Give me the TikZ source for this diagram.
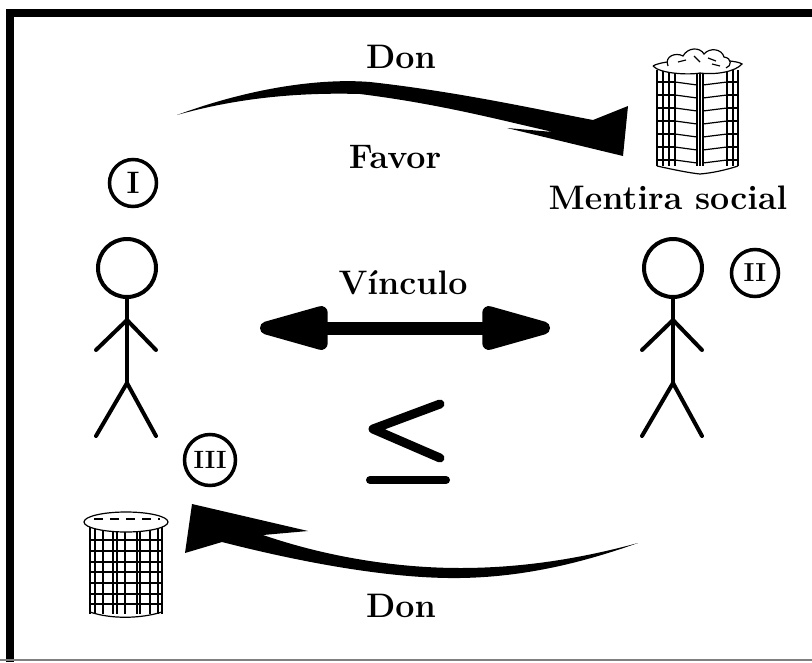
\documentclass[tikz,border=0pt]{standalone}
\usepackage{fontspec}
\usetikzlibrary{arrows.meta}
\tikzset{
  lbl/.style={font=\fontsize{34}{40}\selectfont\bfseries},
  num/.style={draw,circle,line width=3.5pt,minimum size=47pt,inner sep=0pt,font=\fontsize{31}{34}\selectfont\bfseries},
  stick/.style={line width=4pt,line cap=round},
  lazo/.style={line width=13pt,{Triangle[length=88pt,width=44pt,round]}-{Triangle[length=88pt,width=44pt,round]}},
  rejilla/.style={line width=1.2pt},
}

\begin{document}
\begin{tikzpicture}[x=1pt,y=-1pt]
  \useasboundingbox (0,0) rectangle (812,662);
  % ----- marco -----
  \draw[line width=8pt] (10,662) -- (10,13) -- (812,13);
  \draw[gray,line width=1.5pt] (0,660) -- (812,660);

  % ----- personas -----
  \foreach \n/\x in {uno/127,dos/673}{
    \node[draw,circle,line width=4pt,minimum size=58pt,inner sep=0pt] (cabeza\n) at (\x,268) {};
    \coordinate (hombro\n) at (\x,320);
    \coordinate (cadera\n) at (\x,383);
    \draw[stick] (cabeza\n.south) -- (cadera\n);
    \draw[stick] (\x-31,350) -- (hombro\n) -- (\x+29,350);
    \draw[stick] (\x-31,436) -- (cadera\n) -- (\x+29,436);}
  \node[num] (I) at (133,183) {I};
  \node[num,font=\fontsize{26}{30}\selectfont\bfseries] (II) at (755,273) {II};
  \node[num,minimum size=51pt,font=\fontsize{25}{30}\selectfont\bfseries] (III) at (210,460) {III};

  % ----- textos -----
  \node[lbl] (donA) at (401,57) {Don};
  \node[lbl] (favor) at (395,157) {Favor};
  \node[lbl] (mentira) at (668,198) {Mentira social};
  \node[lbl] (vinculo) at (403,283) {Vínculo};
  \node[lbl] (donB) at (401,606) {Don};

  % ----- vinculo -----
  \coordinate (vl) at (260,328);
  \coordinate (vr) at (550,328);
  \draw[lazo] (vl) -- (vr);

  % menor o igual
  \coordinate (menA) at (440,404);
  \coordinate (menP) at (373,429);
  \coordinate (menB) at (440,458);
  \draw[line width=9pt,line cap=round,line join=round] (menA) -- (menP) -- (menB);
  \draw[line width=8pt,line cap=round] (370,480) -- (446,480);

  % ----- don de arriba -----
  \coordinate (colaA) at (177,115);
  \coordinate (puntaA) at (623,156);
  \fill (colaA) .. controls (250,88) and (320,78) .. (370,82)
        .. controls (460,92) and (540,110) .. (593,120) -- (628,106) -- (puntaA)
        -- (507,128) -- (553,132)
        .. controls (500,120) and (440,104) .. (360,94)
        .. controls (290,92) and (230,100) .. (colaA) -- cycle;

  % ----- don de abajo -----
  \coordinate (colaB) at (638,543);
  \coordinate (puntaB) at (185,553);
  \fill (192,504) -- (308,531) -- (263,535)
        .. controls (330,558) and (400,568) .. (460,568)
        .. controls (530,568) and (590,556) .. (colaB)
        .. controls (590,560) and (530,577) .. (460,578)
        .. controls (390,579) and (300,562) .. (222,542) -- (puntaB) -- cycle;

  % ----- torre arriba -----
  \begin{scope}[rejilla]
   \foreach \x in {657,663,669,675,697,700,703,727,733,738}
     \draw (\x,70) -- (\x,166);
   \foreach \y in {82,95,108,121,134,147,160}{
     \draw (675,\y) -- (697,\y+3);
     \draw (703,\y+3) -- (727,\y);
     \draw (657,\y) -- (675,\y);
     \draw (727,\y) -- (738,\y);}
   \draw[fill=white] (653,66) .. controls (660,74) and (690,75) .. (700,73)
        .. controls (715,75) and (735,72) .. (742,64)
        .. controls (735,58) and (665,58) .. (653,66);
   \draw[fill=white] (668,66) .. controls (664,56) and (676,52) .. (683,56)
        .. controls (688,47) and (700,47) .. (704,54)
        .. controls (710,47) and (722,49) .. (724,57)
        .. controls (732,58) and (732,66) .. (726,68);
   \draw (678,62) -- (686,60) (694,56) -- (700,62) (708,58) -- (716,61) (712,64) -- (720,66);
   \draw (657,166) .. controls (675,170) and (690,173) .. (700,174)
        .. controls (712,173) and (726,170) .. (738,166);
  \end{scope}

  % ----- torre abajo -----
  \begin{scope}[rejilla]
   \foreach \x in {90,95,103,113,117,125,137,140,150,158,162}
     \draw (\x,526) -- (\x,614);
   \foreach \y in {540,551,562,572,583,594,604}
     \draw (90,\y) -- (162,\y);
   \draw[fill=white] (126,522) ellipse (42pt and 10pt);
   \draw[dash pattern=on 9pt off 7pt] (94,519) -- (160,519);
   \draw (90,612) .. controls (110,619) and (140,619) .. (162,612);
  \end{scope}
\end{tikzpicture}
\end{document}
